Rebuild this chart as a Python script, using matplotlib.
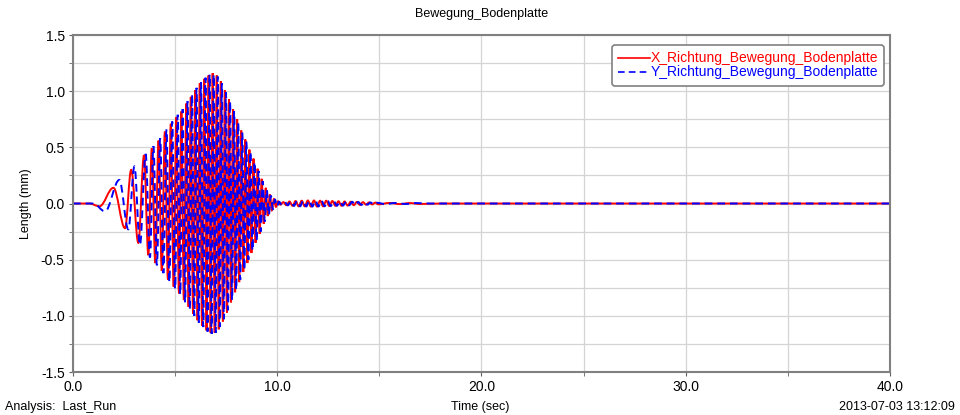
import matplotlib.pyplot as plt
from matplotlib.lines import Line2D
from matplotlib.patches import PathPatch
from matplotlib.path import Path
from matplotlib.ticker import MultipleLocator

plt.rcParams['font.family'] = ['Liberation Sans', 'DejaVu Sans']

# extrema of the X signal (time in sec, displacement in mm)
x_time = [0.0, 0.8, 1.3, 1.98, 2.55, 2.85, 3.2, 3.48, 3.69,
          3.86, 4.03, 4.19, 4.35, 4.50, 4.65, 4.79, 4.93, 5.06, 5.19,
          5.31, 5.43, 5.55, 5.66, 5.77, 5.88, 5.99, 6.10, 6.21, 6.32,
          6.43, 6.54, 6.64, 6.74, 6.84, 6.94, 7.04, 7.14, 7.24, 7.34,
          7.44, 7.54, 7.64, 7.74, 7.84, 7.94, 8.04, 8.14, 8.24, 8.34,
          8.44, 8.54, 8.64, 8.74, 8.84, 8.94, 9.04, 9.14, 9.24, 9.34,
          9.44, 9.54, 9.64, 9.74, 9.84, 9.94, 10.04,
          10.15, 10.3, 10.45, 10.6, 10.75, 10.9, 11.05, 11.2, 11.35, 11.5,
          11.65, 11.8, 11.95, 12.1, 12.25, 12.4, 12.55, 12.7, 12.85, 13.0,
          13.15, 13.3, 13.45, 13.6, 13.75, 13.9, 14.05, 14.2, 14.35, 14.5,
          14.65, 14.8, 14.95, 15.5, 16.0, 16.5, 17.0, 18.0, 40.0]
x_value = [0.0, 0.0, -0.025, 0.14, -0.22, 0.30, -0.35, 0.43, -0.46,
           0.49, -0.53, 0.56, -0.60, 0.64, -0.68, 0.71, -0.74, 0.77, -0.80,
           0.82, -0.86, 0.89, -0.92, 0.95, -0.98, 1.01, -1.04, 1.07, -1.09,
           1.11, -1.13, 1.14, -1.15, 1.16, -1.15, 1.14, -1.12, 1.09, -1.05,
           1.01, -0.97, 0.93, -0.88, 0.84, -0.79, 0.75, -0.70, 0.65, -0.61,
           0.57, -0.53, 0.48, -0.44, 0.40, -0.35, 0.31, -0.27, 0.22, -0.18,
           0.14, -0.11, 0.08, -0.06, 0.04, -0.03, 0.02,
           -0.01, 0.012, -0.015, 0.018, -0.02, 0.022, -0.025, 0.025, -0.025, 0.027,
           -0.027, 0.027, -0.027, 0.025, -0.025, 0.025, -0.022, 0.022, -0.02, 0.02,
           -0.02, 0.018, -0.018, 0.016, -0.015, 0.014, -0.012, 0.012, -0.01, 0.01,
           -0.008, 0.008, -0.007, 0.005, -0.005, 0.004, -0.004, 0.0, 0.0]

# extrema of the Y signal
y_time = [0.0, 1.0, 1.57, 2.27, 2.71, 3.01, 3.28, 3.56, 3.77,
          3.94, 4.11, 4.27, 4.43, 4.58, 4.72, 4.86, 5.00, 5.13, 5.25,
          5.37, 5.49, 5.61, 5.72, 5.83, 5.94, 6.05, 6.16, 6.27, 6.38,
          6.49, 6.59, 6.69, 6.79, 6.89, 6.99, 7.09, 7.19, 7.29, 7.39,
          7.49, 7.59, 7.69, 7.79, 7.89, 7.99, 8.09, 8.19, 8.29, 8.39,
          8.49, 8.59, 8.69, 8.79, 8.89, 8.99, 9.09, 9.19, 9.29, 9.39,
          9.49, 9.59, 9.69, 9.79, 9.89, 9.99, 10.09,
          10.22, 10.37, 10.52, 10.67, 10.82, 10.97, 11.12, 11.27, 11.42, 11.57,
          11.72, 11.87, 12.02, 12.17, 12.32, 12.47, 12.62, 12.77, 12.92, 13.07,
          13.22, 13.37, 13.52, 13.67, 13.82, 13.97, 14.12, 14.27, 14.42, 14.57,
          14.72, 14.87, 15.3, 15.8, 16.3, 16.8, 17.5, 40.0]
y_value = [0.0, 0.0, -0.07, 0.21, -0.23, 0.33, -0.37, 0.44, -0.48,
           0.51, -0.55, 0.58, -0.62, 0.66, -0.70, 0.73, -0.76, 0.79, -0.81,
           0.84, -0.88, 0.91, -0.94, 0.97, -1.00, 1.03, -1.06, 1.08, -1.10,
           1.12, -1.14, 1.15, -1.16, 1.15, -1.15, 1.13, -1.10, 1.07, -1.03,
           0.99, -0.95, 0.91, -0.86, 0.82, -0.77, 0.72, -0.68, 0.63, -0.59,
           0.55, -0.50, 0.46, -0.42, 0.37, -0.33, 0.29, -0.25, 0.20, -0.16,
           0.12, -0.10, 0.07, -0.05, 0.035, -0.025, 0.015,
           -0.01, 0.013, -0.016, 0.019, -0.021, 0.023, -0.025, 0.026, -0.026, 0.027,
           -0.027, 0.026, -0.026, 0.025, -0.024, 0.023, -0.022, 0.021, -0.02, 0.019,
           -0.018, 0.017, -0.016, 0.015, -0.014, 0.013, -0.012, 0.011, -0.01, 0.009,
           -0.008, 0.007, -0.005, 0.005, -0.004, 0.004, 0.0, 0.0]


def wave_path(t, v):
    # smooth curve through the extrema, flat tangent at each one
    verts = [(t[0], v[0])]
    codes = [Path.MOVETO]
    for i in range(1, len(t)):
        d = t[i] - t[i - 1]
        verts += [(t[i - 1] + 0.36 * d, v[i - 1]), (t[i] - 0.36 * d, v[i]), (t[i], v[i])]
        codes += [Path.CURVE4] * 3
    return Path(verts, codes)


red = '#ff0000'
blue = '#0000ff'
dash = (0, (4, 2.5))
lw = 1.4

fig = plt.figure(figsize=(9.6, 4.15), dpi=100)
ax = fig.add_axes([0.076, 0.1036, 0.851, 0.812])

ax.add_patch(PathPatch(wave_path(x_time, x_value), fill=False, edgecolor=red, lw=lw))
ax.add_patch(PathPatch(wave_path(y_time, y_value), fill=False, edgecolor=blue, lw=lw,
                       linestyle=dash))

ax.set_xlim(0, 40)
ax.set_ylim(-1.5, 1.5)
ax.xaxis.set_major_locator(MultipleLocator(10))
ax.xaxis.set_minor_locator(MultipleLocator(5))
ax.yaxis.set_major_locator(MultipleLocator(0.5))
ax.yaxis.set_minor_locator(MultipleLocator(0.25))
ax.set_xticklabels([f'{v:.1f}' for v in ax.get_xticks()])
ax.set_yticklabels([f'{v:.1f}' for v in ax.get_yticks()])
ax.grid(which='both', color='#d4d4d4', lw=0.9)
ax.set_axisbelow(True)
for s in ax.spines.values():
    s.set_color('#808080')
    s.set_linewidth(1.5)
ax.tick_params(which='both', direction='out', length=3, color='#606060',
               labelsize=10, pad=3)

ax.set_title('Bewegung_Bodenplatte', fontsize=9, pad=13)
ax.set_ylabel('Length (mm)', fontsize=9, labelpad=6)
fig.text(0.5, 0.012, 'Time (sec)', fontsize=9, ha='center')
fig.text(0.005, 0.012, 'Analysis:  Last_Run', fontsize=9, ha='left')
fig.text(0.995, 0.012, '2013-07-03 13:12:09', fontsize=9, ha='right')

handles = [Line2D([], [], color=red, lw=1.2),
           Line2D([], [], color=blue, lw=1.2, ls=dash)]
labels = ['X_Richtung_Bewegung_Bodenplatte', 'Y_Richtung_Bewegung_Bodenplatte']
leg = ax.legend(handles, labels, loc='upper right', fontsize=10, handlelength=2.3,
                handletextpad=0.0, borderpad=0.45, labelspacing=0.0, fancybox=True,
                borderaxespad=0, bbox_to_anchor=(0.9927, 0.970), framealpha=1)
leg.get_frame().set_edgecolor('#808080')
leg.get_frame().set_linewidth(1.2)
for txt, c in zip(leg.get_texts(), [red, blue]):
    txt.set_color(c)

fig.savefig('out.png', dpi=100)
